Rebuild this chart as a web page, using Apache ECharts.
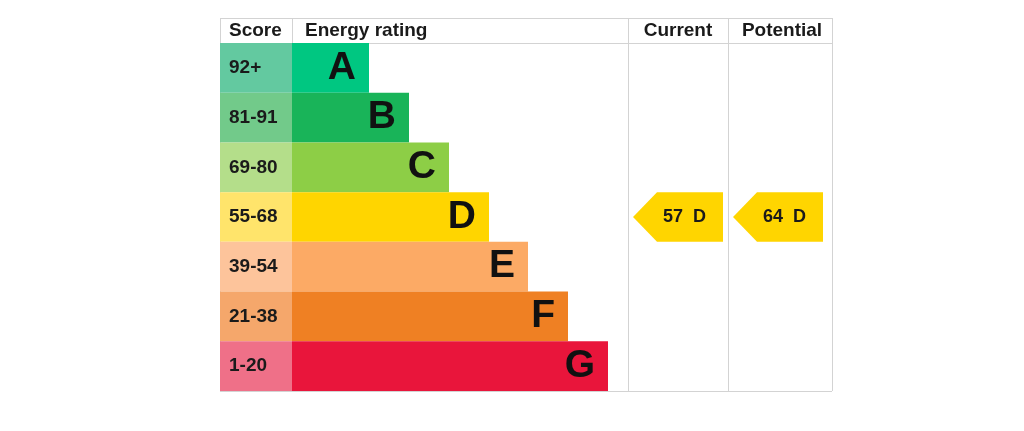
<!DOCTYPE html>
<html lang="en">
<head>
    <meta charset="UTF-8">
    <title>Energy rating</title>
    <script src="https://cdn.jsdelivr.net/npm/echarts@6/dist/echarts.min.js"></script>
    <style>
        html, body { margin: 0; padding: 0; background: #fff; }
    </style>
</head>
<body>
<div id="epc" style="width: 1024px;height: 431px;"></div>
<script>
    // bands, top to bottom
    var bands = ['A', 'B', 'C', 'D', 'E', 'F', 'G'];
    var scoreRanges = ['92+', '81-91', '69-80', '55-68', '39-54', '21-38', '1-20'];
    var bandMin = [92, 81, 69, 55, 39, 21, 1];
    // length of each rating bar (px on the x axis)
    var barLengths = [77, 117, 157, 197, 236, 276, 316];
    var bandColors = ['#00c781', '#19b459', '#8dce46', '#ffd500', '#fcaa65', '#ef8023', '#e9153b'];
    var scoreColors = ['#63c9a0', '#72ca8a', '#b4de8a', '#ffe46b', '#fdc49b', '#f5a76b', '#ef7088'];
    var currentScore = 57;
    var potentialScore = 64;

    // table layout (px)
    var T = {left: 220, top: 18, head: 43, bottom: 391, right: 832};
    var scoreW = 72;                       // score column
    var colCurrent = [628, 728];
    var colPotential = [728, 832];
    var font = 'Arial, "Liberation Sans", sans-serif';
    var lineColor = '#d3d3d3';

    function bandOf(score) {
        for (var i = 0; i < bandMin.length; i++) {
            if (score >= bandMin[i]) return i;
        }
        return bandMin.length - 1;
    }

    var chart = echarts.init(document.getElementById('epc'));

    var scoreData = scoreRanges.map(function (s, i) {
        return {value: scoreW, itemStyle: {color: scoreColors[i]}};
    });
    var ratingData = barLengths.map(function (v, i) {
        return {value: v, itemStyle: {color: bandColors[i]}};
    });
    var arrows = [
        [colCurrent[0] - T.left, bandOf(currentScore), currentScore + '  ' + bands[bandOf(currentScore)]],
        [colPotential[0] - T.left, bandOf(potentialScore), potentialScore + '  ' + bands[bandOf(potentialScore)]]
    ];

    function line(x1, y1, x2, y2) {
        return {type: 'line', z: -1, shape: {x1: x1, y1: y1, x2: x2, y2: y2},
            style: {stroke: lineColor, lineWidth: 1}};
    }
    function head(text, x, align) {
        return {type: 'text', z: 5, x: x, y: (T.top + T.head) / 2,
            style: {text: text, font: 'bold 19px ' + font, fill: '#1a1a1a',
                align: align, verticalAlign: 'middle'}};
    }

    var option = {
        animation: false,
        grid: {left: T.left, top: T.head, width: T.right - T.left, height: T.bottom - T.head},
        xAxis: {type: 'value', min: 0, max: T.right - T.left, show: false},
        yAxis: {type: 'category', data: bands, inverse: true, show: false},
        graphic: [
            line(T.left, T.top + 0.5, T.right, T.top + 0.5),
            line(T.left, T.head + 0.5, T.right, T.head + 0.5),
            line(T.left, T.bottom + 0.5, T.right, T.bottom + 0.5),
            line(T.left + 0.5, T.top, T.left + 0.5, T.bottom),
            line(T.left + scoreW + 0.5, T.top, T.left + scoreW + 0.5, T.head),
            line(colCurrent[0] + 0.5, T.top, colCurrent[0] + 0.5, T.bottom),
            line(colPotential[0] + 0.5, T.top, colPotential[0] + 0.5, T.bottom),
            line(T.right + 0.5, T.top, T.right + 0.5, T.bottom),
            head('Score', T.left + 9, 'left'),
            head('Energy rating', T.left + scoreW + 13, 'left'),
            head('Current', (colCurrent[0] + colCurrent[1]) / 2, 'center'),
            head('Potential', (colPotential[0] + colPotential[1]) / 2 + 2, 'center')
        ],
        series: [{
            type: 'bar',
            stack: 'row',
            barCategoryGap: '0%',
            data: scoreData,
            label: {
                show: true, position: 'insideLeft', distance: 9,
                formatter: function (p) { return scoreRanges[p.dataIndex]; },
                fontFamily: font, fontWeight: 'bold', fontSize: 19, color: '#1a1a1a'
            }
        }, {
            type: 'bar',
            stack: 'row',
            barCategoryGap: '0%',
            data: ratingData,
            label: {
                show: true, position: 'insideRight', distance: 13,
                formatter: function (p) { return bands[p.dataIndex]; },
                fontFamily: font, fontWeight: 'bold', fontSize: 39, color: '#111'
            }
        }, {
            type: 'custom',
            data: arrows,
            renderItem: function (params, api) {
                var p = api.coord([api.value(0), api.value(1)]);
                var h = api.size([0, 1])[1];
                var tip = p[0] + 5, top = p[1] - h / 2, bot = p[1] + h / 2;
                var neck = tip + 24, tail = tip + 90;
                return {
                    type: 'group',
                    children: [{
                        type: 'polygon',
                        shape: {points: [[tip, p[1]], [neck, top], [tail, top], [tail, bot], [neck, bot]]},
                        style: {fill: bandColors[3]}
                    }, {
                        type: 'text',
                        x: neck + 6, y: p[1],
                        style: {text: api.value(2), font: 'bold 18px ' + font, fill: '#1a1a1a',
                            align: 'left', verticalAlign: 'middle'}
                    }]
                };
            }
        }]
    };
    chart.setOption(option);
</script>
</body>
</html>
